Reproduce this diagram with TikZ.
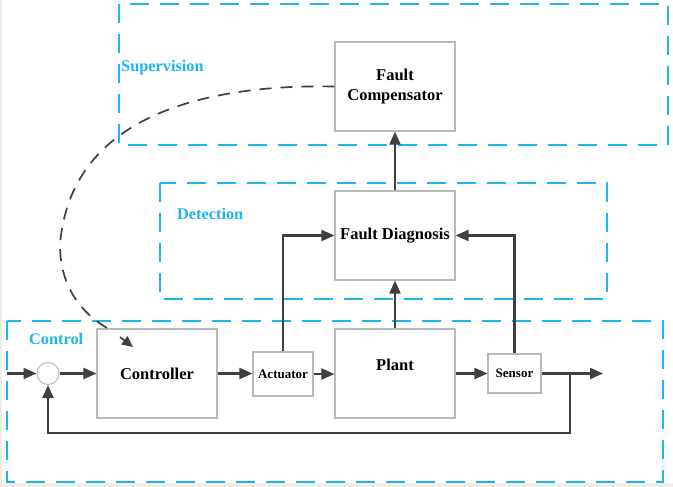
\documentclass[tikz,border=0pt]{standalone}
\usepackage{fontspec}
\setmainfont{Liberation Serif}
\usetikzlibrary{arrows.meta}
\definecolor{zoneblue}{RGB}{30,180,240}
\definecolor{linegray}{RGB}{64,64,64}
\definecolor{boxgray}{RGB}{185,185,185}
\definecolor{cream}{RGB}{240,238,226}
\tikzset{
  zone/.style={draw=zoneblue, line width=1.6pt, dash pattern=on 19pt off 11pt},
  zonelabel/.style={text=zoneblue, font=\fontsize{16.3}{19}\selectfont\bfseries, inner sep=0pt, anchor=west},
  blockbox/.style={draw=boxgray, line width=1.1pt, fill=white, inner sep=0pt, align=center,
                   font=\fontsize{16.5}{20}\selectfont\bfseries},
  smallbox/.style={blockbox, font=\fontsize{13}{16}\selectfont\bfseries},
  flow/.style={draw=linegray, line width=2.1pt, -{Triangle[length=13pt,width=11pt]}},
  feedbackcurve/.style={draw=linegray, line width=1.7pt, dash pattern=on 12pt off 9pt},
}
\begin{document}
\begin{tikzpicture}[x=1pt,y=-1pt]
\useasboundingbox (0,0) rectangle (673,487);
\fill[cream] (0,0) rectangle (673,487);
\fill[white] (2,0) rectangle (673,483);

% zones
\draw[zone] (119,4) rectangle (668,145);
\draw[zone] (160,183) rectangle (607,299);
\draw[zone] (7,321) rectangle (663,482);
\node[zonelabel] (suplabel) at (121,68) {Supervision};
\node[zonelabel] (detlabel) at (177,214) {Detection};
\node[zonelabel] (ctrllabel) at (29,339) {Control};

% blocks
\node[blockbox, minimum width=120pt, minimum height=89pt] (fc) at (395,86.5) {Fault\\Compensator};
\node[blockbox, minimum width=120pt, minimum height=89pt] (fd) at (395,235.5) {Fault Diagnosis};
\node[blockbox, minimum width=120pt, minimum height=89pt] (ctrl) at (157,373.5) {Controller};
\node[smallbox, minimum width=60pt, minimum height=44pt] (act) at (283,374) {Actuator};
\node[blockbox, minimum width=120pt, minimum height=89pt] (plant) at (395,373.5) {};
\node[inner sep=0pt, font=\fontsize{16.5}{20}\selectfont\bfseries] (plantlabel) at (395,365) {Plant};
\node[smallbox, minimum width=53pt, minimum height=39pt] (sensor) at (514.5,373.5) {Sensor};
\node[draw=boxgray, line width=1pt, fill=white, circle, minimum size=22pt, inner sep=0pt] (sum) at (48,373.5) {};

% coordinates
\coordinate (in) at (7,373.5);
\coordinate (out) at (603,373.5);
\coordinate (branch) at (570,373.5);
\coordinate (fbcorner) at (570,433);
\coordinate (curveend) at (107,328);
\coordinate (arrstart) at (120,337);
\coordinate (arrtip) at (133,347);

% signal flow
\draw[flow] (in) -- (sum.west);
\draw[flow] (sum.east) -- (ctrl.west);
\draw[flow] (ctrl.east) -- (ctrl.east -| act.west);
\draw[flow] (act.east) -- (act.east -| plant.west);
\draw[flow] (plant.east) -- (sensor.west);
\draw[flow] (sensor.east) -- (out);
\draw[flow] (branch) -- (fbcorner) -| (sum.south);
\draw[flow] (act.north) |- (fd.west);
\draw[flow] (sensor.north) |- (fd.east);
\draw[flow] (plant.north) -- (fd.south);
\draw[flow] (fd.north) -- (fc.south);

% supervision feedback
\draw[feedbackcurve] (fc.west) .. controls (200,84) and (70,118) .. (60,245)
   .. controls (60,290) and (85,315) .. (curveend);
\draw[draw=linegray, line width=1.7pt, -{Triangle[length=11pt,width=10pt]}] (arrstart) -- (arrtip);
\end{tikzpicture}
\end{document}
